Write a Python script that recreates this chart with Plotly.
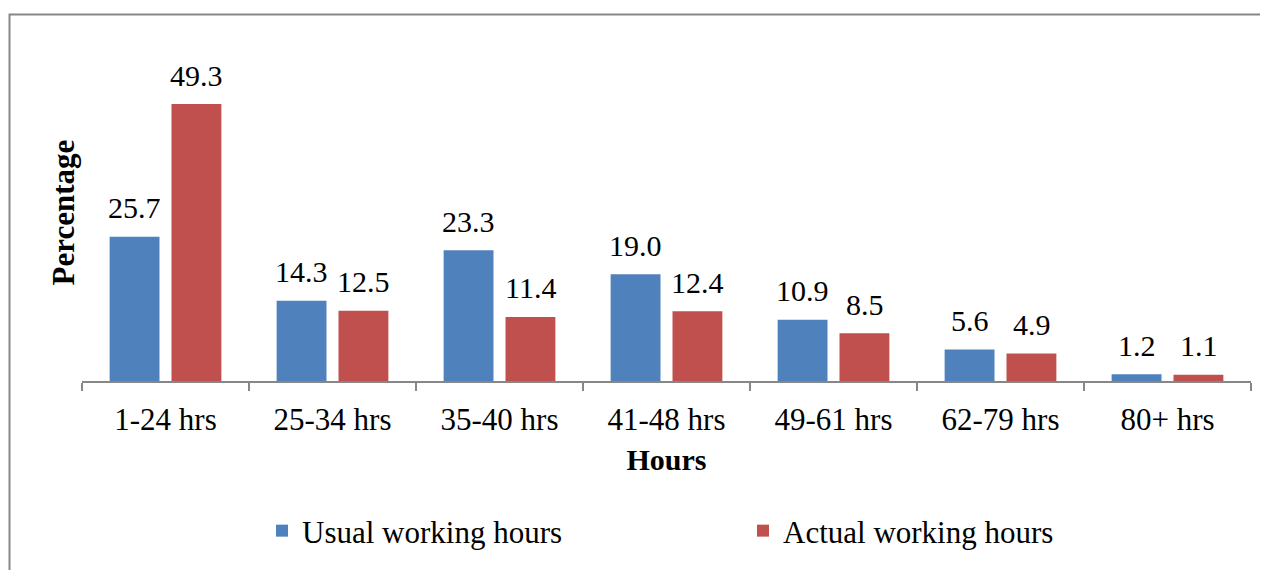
import plotly.graph_objects as go

categories = ["1-24 hrs", "25-34 hrs", "35-40 hrs", "41-48 hrs", "49-61 hrs", "62-79 hrs", "80+ hrs"]
usual = [25.7, 14.3, 23.3, 19.0, 10.9, 5.6, 1.2]
actual = [49.3, 12.5, 11.4, 12.4, 8.5, 4.9, 1.1]
series_names = ["Usual working hours", "Actual working hours"]
colors = ["#4F81BD", "#C0504D"]

FONT = "Liberation Serif"
# page body has an 8px margin, so the figure is 8px smaller and everything shifted
W, H = 1260, 562
L, R, T, B = 74, 17, 36, 189

fig = go.Figure()
for name, vals, col in zip(series_names, [usual, actual], colors):
    fig.add_trace(go.Bar(x=categories, y=vals, name=name, marker=dict(color=col, line=dict(width=0))))

plot_w = W - L - R
plot_h = H - T - B

annotations = []
for vals, shift in [(usual, -31), (actual, 31)]:
    for c, v in zip(categories, vals):
        annotations.append(dict(x=c, y=v, xref="x", yref="y", text=f"{v:.1f}", showarrow=False,
                                xshift=shift, yanchor="middle", yshift=29,
                                font=dict(family=FONT, size=30, color="#000000")))
annotations.append(dict(text="<b>Percentage</b>", xref="paper", yref="paper", x=(55 - L) / plot_w, y=0.5,
                        textangle=-90, showarrow=False, xanchor="center", yanchor="middle",
                        font=dict(family=FONT, size=31, color="#000000")))

fig.update_layout(
    width=W, height=H,
    margin=dict(l=L, r=R, t=T, b=B),
    paper_bgcolor="white", plot_bgcolor="white",
    barmode="group", bargap=0.259, bargroupgap=0.194,
    font=dict(family=FONT, size=30, color="#000000"),
    showlegend=True,
    legend=dict(orientation="h", xref="container", yref="container", x=254 / W, y=1 - 523 / H,
                xanchor="left", yanchor="middle", entrywidth=436, font=dict(family=FONT, size=31),
                bgcolor="rgba(0,0,0,0)"),
    annotations=annotations,
    shapes=[dict(type="rect", xref="paper", yref="paper",
                 x0=(1.5 - L) / plot_w, x1=(1300 - L) / plot_w,
                 y0=(H - B - 700) / plot_h, y1=(H - B - 6.5) / plot_h,
                 line=dict(color="#878787", width=2), fillcolor="rgba(0,0,0,0)", layer="below")],
)
fig.update_xaxes(range=[-0.5, 6.5], showline=True, linecolor="#878787", linewidth=2,
                 ticks="outside", tickson="boundaries", ticklen=8, tickcolor="#878787", tickwidth=2,
                 tickfont=dict(family=FONT, size=31), showgrid=False, ticklabelstandoff=10,
                 title=dict(text="<b>Hours</b>", font=dict(family=FONT, size=30), standoff=13))
fig.update_yaxes(range=[0, 60], showticklabels=False, showgrid=False, zeroline=False, showline=False,
                 ticks="")

fig.write_html("out.html")
